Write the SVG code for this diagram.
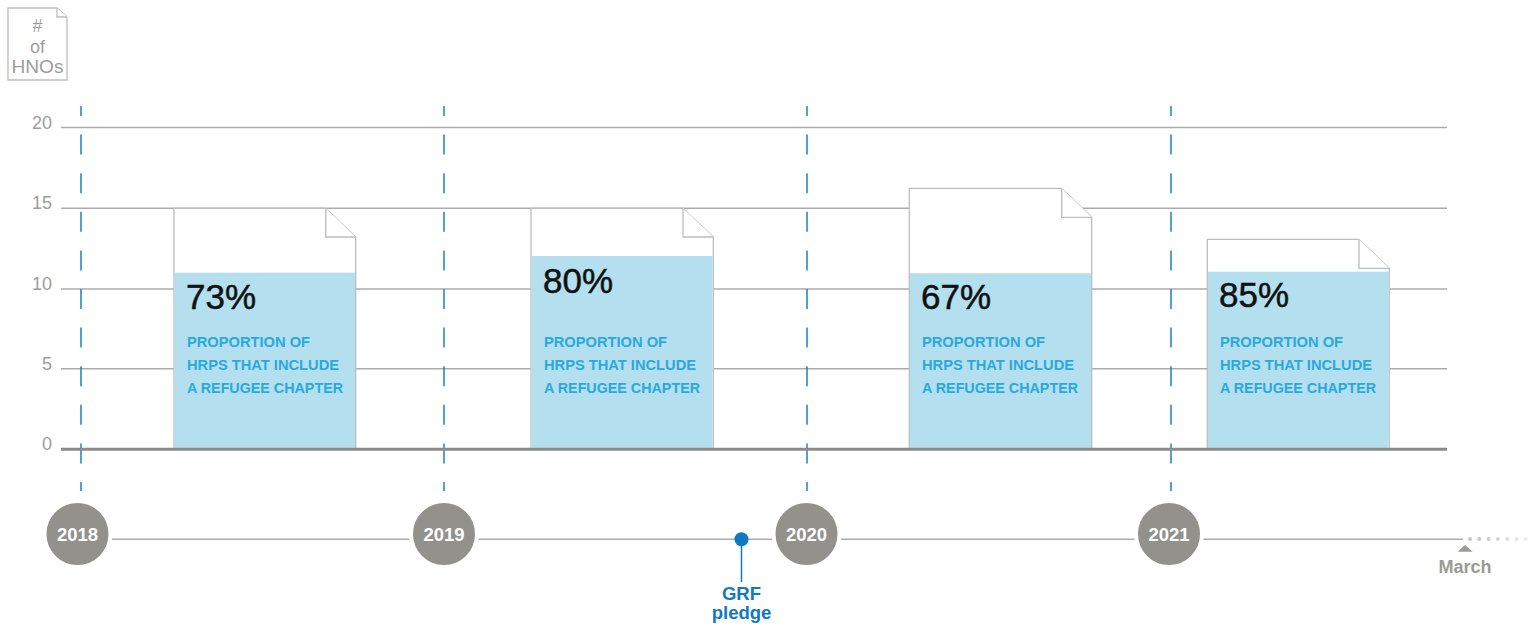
<svg xmlns="http://www.w3.org/2000/svg" width="1540" height="628" viewBox="0 0 1540 628">
<style>
.grid{stroke:#ababab;stroke-width:1.4;fill:none}
.base{stroke:#8c8b89;stroke-width:3;fill:none}
.ylab{font-family:"Liberation Sans",Arial,sans-serif;font-size:18px;fill:#9d9d9d;text-anchor:end}
.dash{stroke:#1b80cc;stroke-width:1.5;stroke-dasharray:20 18.6;stroke-dashoffset:10;fill:none}
.doc{fill:#fff;stroke:#bdbdbd;stroke-width:1.3}
.fill{fill:#b4dfef}
.fold{fill:#fff;stroke:#bdbdbd;stroke-width:1.3;stroke-linejoin:miter}
.pct{font-family:"Liberation Sans",Arial,sans-serif;font-size:35px;fill:#111;stroke:#111;stroke-width:0.5}
.lab{font-family:"Liberation Sans",Arial,sans-serif;font-size:15.5px;font-weight:bold;fill:#2aa9dc}
.yc{fill:#93918c;stroke:#fff;stroke-width:4}
.yt{font-family:"Liberation Sans",Arial,sans-serif;font-size:18.5px;font-weight:bold;fill:#fff;text-anchor:middle}
.leg{font-family:"Liberation Sans",Arial,sans-serif;font-size:18px;fill:#9d9d9d;text-anchor:middle}
</style>

<g id="legend">
<path class="doc" d="M8,8 L57,8 L67,17 L67,80 L8,80 Z"/>
<path class="fold" d="M57,8 L57,17 L67,17"/>
<text class="leg" x="37.5" y="32" font-size="17">#</text>
<text class="leg" x="37.5" y="53">of</text>
<text class="leg" x="37.5" y="73" textLength="52" lengthAdjust="spacingAndGlyphs">HNOs</text>
</g>

<g id="axis">
<line class="grid" x1="61" y1="127.5" x2="1447" y2="127.5"/>
<line class="grid" x1="61" y1="208.3" x2="1447" y2="208.3"/>
<line class="grid" x1="61" y1="289" x2="1447" y2="289"/>
<line class="grid" x1="61" y1="368.7" x2="1447" y2="368.7"/>
<text class="ylab" x="52" y="128.5">20</text>
<text class="ylab" x="52" y="209.3">15</text>
<text class="ylab" x="52" y="290">10</text>
<text class="ylab" x="52" y="369.7">5</text>
<text class="ylab" x="52" y="449.5">0</text>
</g>

<g id="connectors">
<line class="dash" x1="81" y1="106" x2="81" y2="491"/>
<line class="dash" x1="444" y1="106" x2="444" y2="491"/>
<line class="dash" x1="807" y1="106" x2="807" y2="491"/>
<line class="dash" x1="1171" y1="106" x2="1171" y2="491"/>
</g>

<g id="doc2018">
<path class="doc" d="M174,208.3 L325.7,208.3 L355.7,237 L355.7,449 L174,449 Z"/>
<rect class="fill" x="174.7" y="272.7" width="180.3" height="176.3"/>
<path class="fold" d="M325.7,208.3 L325.7,237 L355.7,237"/>
<text class="pct" x="186" y="309">73%</text>
<text class="lab" x="187" y="347" textLength="123" lengthAdjust="spacingAndGlyphs">PROPORTION OF</text>
<text class="lab" x="187" y="369.5" textLength="152" lengthAdjust="spacingAndGlyphs">HRPS THAT INCLUDE</text>
<text class="lab" x="187" y="392.5" textLength="156" lengthAdjust="spacingAndGlyphs">A REFUGEE CHAPTER</text>
</g>

<g id="doc2019">
<path class="doc" d="M531,208.3 L683,208.3 L713.3,237 L713.3,449 L531,449 Z"/>
<rect class="fill" x="531.7" y="256" width="180.9" height="193"/>
<path class="fold" d="M683,208.3 L683,237 L713.3,237"/>
<text class="pct" x="543" y="293">80%</text>
<text class="lab" x="544" y="347" textLength="123" lengthAdjust="spacingAndGlyphs">PROPORTION OF</text>
<text class="lab" x="544" y="369.5" textLength="152" lengthAdjust="spacingAndGlyphs">HRPS THAT INCLUDE</text>
<text class="lab" x="544" y="392.5" textLength="156" lengthAdjust="spacingAndGlyphs">A REFUGEE CHAPTER</text>
</g>

<g id="doc2020">
<path class="doc" d="M909.3,188.3 L1061.7,188.3 L1091.7,217.3 L1091.7,449 L909.3,449 Z"/>
<rect class="fill" x="910" y="273.3" width="181" height="175.7"/>
<path class="fold" d="M1061.7,188.3 L1061.7,217.3 L1091.7,217.3"/>
<text class="pct" x="921" y="309">67%</text>
<text class="lab" x="922" y="347" textLength="123" lengthAdjust="spacingAndGlyphs">PROPORTION OF</text>
<text class="lab" x="922" y="369.5" textLength="152" lengthAdjust="spacingAndGlyphs">HRPS THAT INCLUDE</text>
<text class="lab" x="922" y="392.5" textLength="156" lengthAdjust="spacingAndGlyphs">A REFUGEE CHAPTER</text>
</g>

<g id="doc2021">
<path class="doc" d="M1207.3,239.3 L1359,239.3 L1389.3,268.3 L1389.3,449 L1207.3,449 Z"/>
<rect class="fill" x="1208" y="271.7" width="180.6" height="177.3"/>
<path class="fold" d="M1359,239.3 L1359,268.3 L1389.3,268.3"/>
<text class="pct" x="1219" y="307">85%</text>
<text class="lab" x="1220" y="347" textLength="123" lengthAdjust="spacingAndGlyphs">PROPORTION OF</text>
<text class="lab" x="1220" y="369.5" textLength="152" lengthAdjust="spacingAndGlyphs">HRPS THAT INCLUDE</text>
<text class="lab" x="1220" y="392.5" textLength="156" lengthAdjust="spacingAndGlyphs">A REFUGEE CHAPTER</text>
</g>

<g id="baseline">
<line class="base" x1="61" y1="449.3" x2="1447" y2="449.3"/>
</g>

<g id="timeline">
<line x1="78" y1="539.3" x2="1463" y2="539.3" stroke="#ababab" stroke-width="1.4"/>
<g fill="#c4c4c4">
<circle cx="1470" cy="539" r="2"/>
<circle cx="1479.3" cy="539" r="2" fill="#c8c8c8"/>
<circle cx="1488.6" cy="539" r="2" fill="#cecece"/>
<circle cx="1497.9" cy="539" r="2" fill="#d6d6d6"/>
<circle cx="1507.2" cy="539" r="2" fill="#dedede"/>
<circle cx="1516.5" cy="539" r="2" fill="#e6e6e6"/>
<circle cx="1525.8" cy="539" r="2" fill="#eeeeee"/>
</g>
</g>

<g id="y2018"><circle class="yc" cx="77.5" cy="534" r="33"/><text class="yt" x="77.5" y="540.5">2018</text></g>
<g id="y2019"><circle class="yc" cx="444" cy="534" r="33"/><text class="yt" x="444" y="540.5">2019</text></g>
<g id="y2020"><circle class="yc" cx="806.5" cy="534" r="33"/><text class="yt" x="806.5" y="540.5">2020</text></g>
<g id="y2021"><circle class="yc" cx="1169" cy="534" r="33"/><text class="yt" x="1169" y="540.5">2021</text></g>

<g id="grf">
<line x1="741.5" y1="539" x2="741.5" y2="582" stroke="#1378c2" stroke-width="1.5"/>
<circle cx="741.5" cy="539.3" r="7" fill="#1378c2"/>
<text x="741.5" y="600" font-family="'Liberation Sans',Arial,sans-serif" font-size="18.5" font-weight="bold" fill="#1378c2" text-anchor="middle">GRF</text>
<text x="741.5" y="619" font-family="'Liberation Sans',Arial,sans-serif" font-size="18.5" font-weight="bold" fill="#1378c2" text-anchor="middle">pledge</text>
</g>

<g id="march">
<path d="M1465,545 L1472.7,551.7 L1457.7,551.7 Z" fill="#9a9a96"/>
<text x="1465" y="572.7" font-family="'Liberation Sans',Arial,sans-serif" font-size="18" font-weight="bold" fill="#9a9a96" text-anchor="middle">March</text>
</g>
</svg>
